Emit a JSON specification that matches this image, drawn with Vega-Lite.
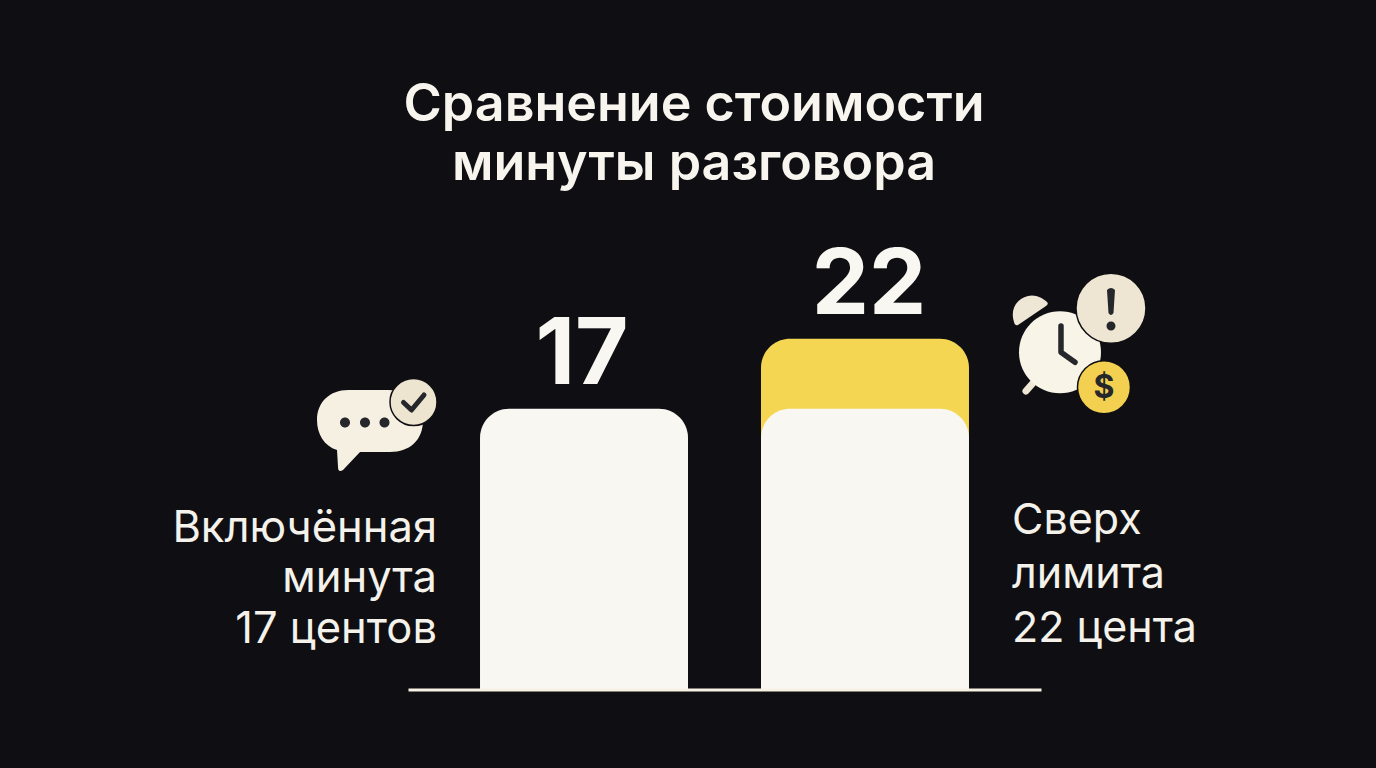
{
"$schema":"https://vega.github.io/schema/vega-lite/v6.json",
"autosize":{"type":"none"},
"width":633,"height":451,
"padding":{"left":408,"right":335,"top":238.5,"bottom":78.5},
"background":"#0F0F13",
"title":{"text":["Сравнение стоимости","минуты разговора"],"anchor":"middle","frame":"group","dx":-30.5,"offset":7,"font":"Inter","fontSize":52,"fontWeight":600,"color":"#F7F5EE","lineHeight":59,"baseline":"alphabetic"},
"config":{"view":{"stroke":null}},
"datasets":{
"bars":[
{"cat":"Включённая минута","part":"Сверх лимита","value":17,"show":"no"},
{"cat":"Сверх лимита","part":"Сверх лимита","value":22,"show":"yes"},
{"cat":"Включённая минута","part":"Включённая минута","value":17,"show":"yes"},
{"cat":"Сверх лимита","part":"Включённая минута","value":17,"show":"no"}
],
"notes":[
{"cat":"Включённая минута","note":"Включённая\nминута\n17 центов"},
{"cat":"Сверх лимита","note":"Сверх\nлимита\n22 цента"}
]},
"data":{"name":"notes"},
"encoding":{
"x":{"field":"cat","type":"nominal","sort":["Включённая минута","Сверх лимита"],"scale":{"paddingInner":0.2598,"paddingOuter":0.2563},"axis":{"title":null,"labels":false,"ticks":false,"domainColor":"#F7F2E4","domainWidth":3,"grid":false,"zindex":1}}
},
"layer":[
{"data":{"name":"bars"},"transform":[{"filter":"!(datum.cat==='Включённая минута' && datum.part==='Сверх лимита')"}],"mark":{"type":"bar","cornerRadiusTopLeft":29,"cornerRadiusTopRight":29},
"encoding":{"y":{"field":"value","type":"quantitative","stack":null,"scale":{"type":"pow","exponent":0.86546,"domain":[0,29.41]},"axis":null},
"color":{"field":"part","type":"nominal","scale":{"domain":["Включённая минута","Сверх лимита"],"range":["#F8F7F1","#F4D653"]},"legend":null}}},
{"data":{"name":"bars"},"transform":[{"filter":"datum.show==='yes' && datum.value===17"}],"mark":{"type":"text","font":"Inter","fontSize":92,"fontWeight":700,"color":"#F8F7F1","baseline":"alphabetic","dy":-25,"dx":-2},
"encoding":{"y":{"field":"value","type":"quantitative","stack":null,"scale":{"type":"pow","exponent":0.86546,"domain":[0,29.41]},"axis":null},"text":{"field":"value","type":"quantitative"}}},
{"data":{"name":"bars"},"transform":[{"filter":"datum.show==='yes' && datum.value===22"}],"mark":{"type":"text","font":"Inter","fontSize":91,"fontWeight":700,"color":"#F8F7F1","baseline":"alphabetic","dy":-25,"dx":4},
"encoding":{"y":{"field":"value","type":"quantitative","stack":null,"scale":{"type":"pow","exponent":0.86546,"domain":[0,29.41]},"axis":null},"text":{"field":"value","type":"quantitative"}}},
{"encoding":{"y":{"datum":0,"type":"quantitative","scale":{"type":"pow","exponent":0.86546,"domain":[0,29.41]},"axis":null}},
"layer":[
{"transform":[{"filter":"datum.cat==='Включённая минута'"}],"mark":{"type":"text","font":"Inter","fontSize":43.5,"fontWeight":400,"color":"#F4F2EA","align":"right","baseline":"alphabetic","dx":-147,"dy":-148,"lineBreak":"\n","lineHeight":50.5},"encoding":{"text":{"field":"note"}}},
{"transform":[{"filter":"datum.cat==='Сверх лимита'"}],"mark":{"type":"text","font":"Inter","fontSize":43,"fontWeight":400,"color":"#F4F2EA","align":"left","baseline":"alphabetic","dx":147,"dy":-156,"lineBreak":"\n","lineHeight":54},"encoding":{"text":{"field":"note"}}},

{"transform":[{"filter":"datum.cat==='Включённая минута'"}],"mark":{"type":"point","filled":true,"opacity":1,"size":4,"xOffset":-214,"yOffset":-269.5,"fill":"#F6F0E2","shape":"M-22,-30 L18,-30 C42,-30 53,-16 53,0 C53,20 40,32 20,32 L-10,32 L-27,50 Q-32,53 -32,47 L-33,30 C-46,26 -53,14 -53,0 C-53,-18 -40,-30 -22,-30 Z"}},
{"transform":[{"filter":"datum.cat==='Включённая минута'"}],"mark":{"type":"point","filled":true,"opacity":1,"size":4,"xOffset":-214,"yOffset":-269.5,"fill":"#EEE5D1","stroke":"#0F0F13","strokeWidth":1.5,"shape":"M20,-18 A23.5,23.5 0 1 0 67,-18 A23.5,23.5 0 1 0 20,-18 Z"}},
{"transform":[{"filter":"datum.cat==='Включённая минута'"}],"mark":{"type":"point","filled":true,"opacity":1,"size":4,"xOffset":-214,"yOffset":-269.5,"fill":"#26272B","shape":"M-30,2.5 A5,5 0 1 0 -20,2.5 A5,5 0 1 0 -30,2.5 Z M-10,2.5 A5,5 0 1 0 0,2.5 A5,5 0 1 0 -10,2.5 Z M9.5,2.5 A5,5 0 1 0 19.5,2.5 A5,5 0 1 0 9.5,2.5 Z"}},
{"transform":[{"filter":"datum.cat==='Включённая минута'"}],"mark":{"type":"point","filled":false,"opacity":1,"size":4,"xOffset":-214,"yOffset":-269.5,"stroke":"#26272B","strokeWidth":5,"strokeCap":"round","strokeJoin":"round","shape":"M33.5,-17.5 L41.5,-10 L54,-25"}},

{"transform":[{"filter":"datum.cat==='Сверх лимита'"}],"mark":{"type":"point","filled":true,"opacity":1,"size":4,"xOffset":215,"yOffset":-349.5,"fill":"#EFE7D5","shape":"M-66,-18 C-70,-30 -64,-41 -52,-44 C-45,-46 -37,-42 -33,-38 Q-31,-36 -34,-34 L-62,-15 Q-65,-14 -66,-18 Z"}},
{"transform":[{"filter":"datum.cat==='Сверх лимита'"}],"mark":{"type":"point","filled":false,"opacity":1,"size":4,"xOffset":215,"yOffset":-349.5,"stroke":"#EFE7D5","strokeWidth":7,"strokeCap":"round","shape":"M-54,51 L-47,43"}},
{"transform":[{"filter":"datum.cat==='Сверх лимита'"}],"mark":{"type":"point","filled":true,"opacity":1,"size":4,"xOffset":215,"yOffset":-349.5,"fill":"#F8F4E8","shape":"M-61,12.3 A41,41 0 1 0 21,12.3 A41,41 0 1 0 -61,12.3 Z"}},
{"transform":[{"filter":"datum.cat==='Сверх лимита'"}],"mark":{"type":"point","filled":false,"opacity":1,"size":4,"xOffset":215,"yOffset":-349.5,"stroke":"#26272B","strokeWidth":5.5,"strokeCap":"round","strokeJoin":"round","shape":"M-19,-14 L-19,12.3 L-5,22.3"}},
{"transform":[{"filter":"datum.cat==='Сверх лимита'"}],"mark":{"type":"point","filled":true,"opacity":1,"size":4,"xOffset":215,"yOffset":-349.5,"fill":"#EEE6D3","stroke":"#0F0F13","strokeWidth":1.5,"shape":"M-4,-31.7 A35,35 0 1 0 66,-31.7 A35,35 0 1 0 -4,-31.7 Z"}},
{"transform":[{"filter":"datum.cat==='Сверх лимита'"}],"mark":{"type":"point","filled":true,"opacity":1,"size":4,"xOffset":215,"yOffset":-349.5,"fill":"#26272B","shape":"M27,-50 Q31,-54 35,-50 L33.5,-27 Q31,-23 28.5,-27 Z M26.5,-14 A4.5,4.5 0 1 0 35.5,-14 A4.5,4.5 0 1 0 26.5,-14 Z"}},
{"transform":[{"filter":"datum.cat==='Сверх лимита'"}],"mark":{"type":"point","filled":true,"opacity":1,"size":4,"xOffset":215,"yOffset":-349.5,"fill":"#F3D04F","stroke":"#0F0F13","strokeWidth":1.5,"shape":"M-2.5,47.3 A26.5,26.5 0 1 0 50.5,47.3 A26.5,26.5 0 1 0 -2.5,47.3 Z"}},
{"transform":[{"filter":"datum.cat==='Сверх лимита'"}],"mark":{"type":"text","text":"$","font":"Inter","fontSize":32,"fontWeight":700,"color":"#26272B","align":"center","baseline":"middle","dx":239,"dy":-302}}
]}
]
}
